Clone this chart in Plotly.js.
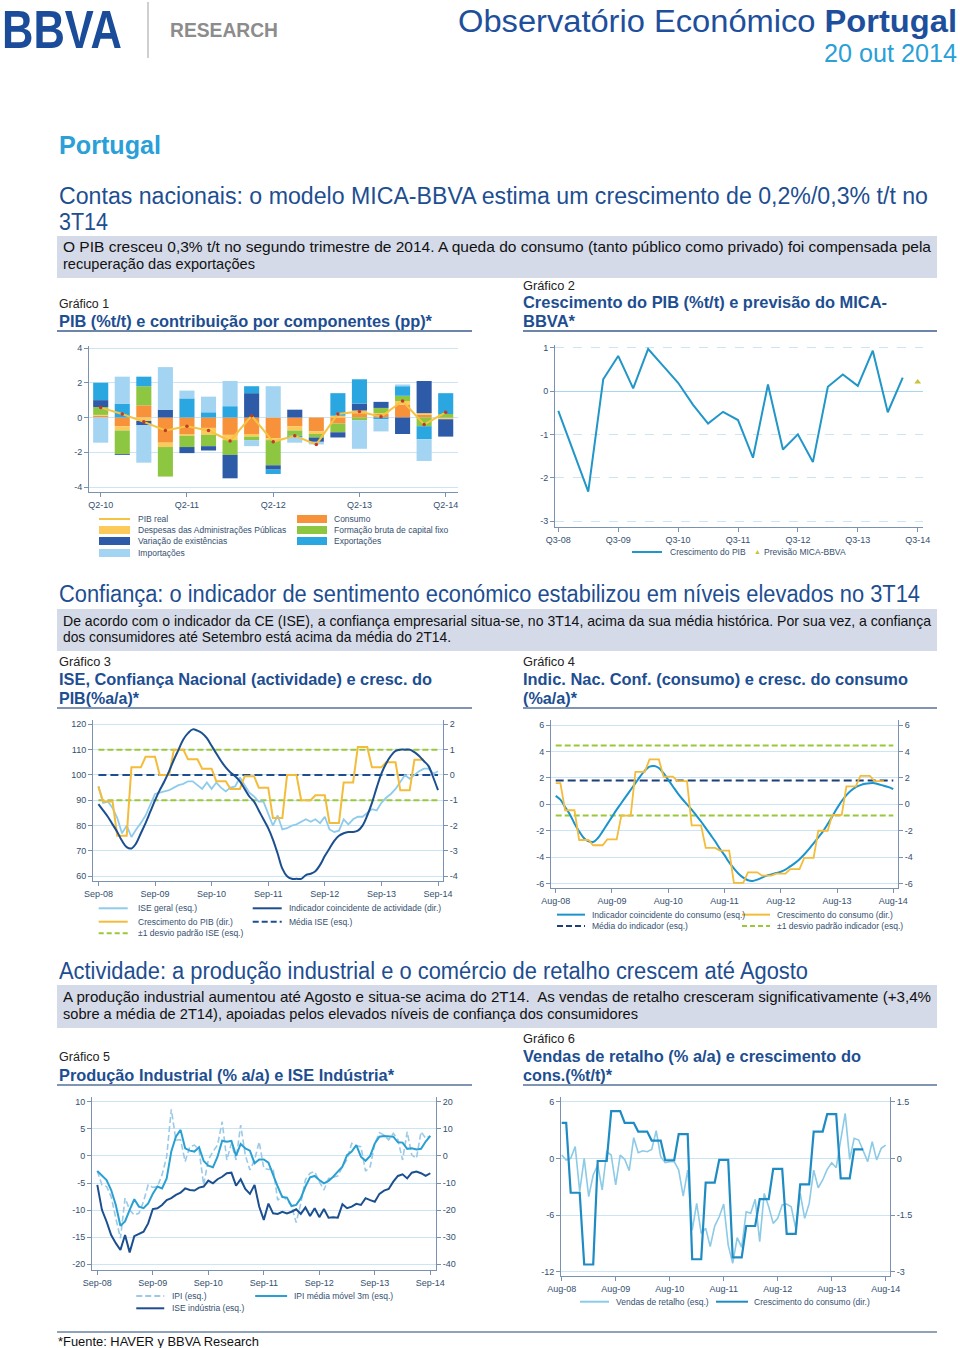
<!DOCTYPE html>
<html><head><meta charset="utf-8">
<script src="https://cdn.plot.ly/plotly-3.0.1.min.js"></script>
<style>
html,body{margin:0;padding:0;background:#fff;}
#page{position:relative;width:960px;height:1348px;overflow:hidden;background:#fff;}
.t{position:absolute;white-space:nowrap;transform-origin:0 50%;}
.r{position:absolute;}
.ch{position:absolute;}
</style></head><body><div id="page"></div>
<script>
// ---------------- DATA ----------------
// Gráfico 1
const c1Cat=['Q2-10','Q3-10','Q4-10','Q1-11','Q2-11','Q3-11','Q4-11','Q1-12','Q2-12','Q3-12','Q4-12','Q1-13','Q2-13','Q3-13','Q4-13','Q1-14','Q2-14'];
const c1Ticks=['Q2-10','Q2-11','Q2-12','Q2-13','Q2-14'];
const c1Consumo=[0.10,-0.50,0.70,-1.45,-0.95,-0.60,-1.00,-0.95,-1.20,-0.50,-0.80,-0.35,0.25,0.20,0.75,0.15,-0.05];
const c1Despesas=[0.05,-0.25,-0.20,-0.25,-0.10,-0.40,-0.30,-0.15,-0.10,-0.25,-0.15,0.10,0.15,0.05,0.20,0.10,-0.05];
const c1FBCF=[0.45,-1.35,1.10,-1.70,-0.65,-0.65,-0.85,-0.20,-1.45,-0.30,-0.20,-0.50,-0.15,0.30,0.30,-0.50,0.20];
const c1Exist=[0.40,-0.05,-0.25,0.45,-0.35,-0.25,-1.35,1.40,-0.25,0.45,-0.25,-0.30,0.40,0.35,-0.95,1.85,-1.00];
const c1Export=[1.00,0.80,0.55,0.00,1.10,0.30,0.65,0.40,-0.25,-0.10,0.00,1.30,1.40,-0.10,0.55,-0.75,1.20];
const c1Import=[-1.45,1.55,-2.15,2.45,0.45,0.90,1.45,-0.35,1.80,-0.30,-0.15,0.00,-1.65,-0.70,0.10,-1.25,0.00];
const c1PIB=[0.57,0.20,-0.25,-0.75,-0.50,-0.75,-1.35,0.10,-1.40,-1.05,-1.55,0.20,0.35,0.05,0.95,-0.40,0.30];
const c1Y=[-4,-2,0,2,4];

// Gráfico 2
const c2Cat=['Q3-08','Q4-08','Q1-09','Q2-09','Q3-09','Q4-09','Q1-10','Q2-10','Q3-10','Q4-10','Q1-11','Q2-11','Q3-11','Q4-11','Q1-12','Q2-12','Q3-12','Q4-12','Q1-13','Q2-13','Q3-13','Q4-13','Q1-14','Q2-14','Q3-14'];
const c2Ticks=['Q3-08','Q3-09','Q3-10','Q3-11','Q3-12','Q3-13','Q3-14'];
const c2PIB=[-0.46,-1.40,-2.32,0.27,0.81,0.06,0.97,0.58,0.19,-0.32,-0.75,-0.48,-0.67,-1.54,0.15,-1.35,-1.00,-1.64,0.10,0.38,0.12,0.93,-0.49,0.31];
const c2PrevCat=['Q3-14'];
const c2Prev=[0.21];
const c2Y=[-3,-2,-1,0,1];

// Gráfico 3 (monthly from Sep-08)
const c3Ticks=['Sep-08','Sep-09','Sep-10','Sep-11','Sep-12','Sep-13','Sep-14'];
const c3ISE=[95.5,89,89.5,87,83,77,80,75.5,78.5,81,84,88,
 92.5,93,93.5,94,95,96,96.5,97.5,97.5,96,94.5,97,
 94.5,97,95,93.5,95,95.5,99,96,93,91.5,89.5,89.5,
 85,80,84,78.5,79,80,80.5,81.5,82.5,81.5,82.5,81,
 83.5,78.5,77.5,78,82.5,80.5,82.5,83.5,83.5,85,86.5,86,
 89,91,92.5,94.5,97.5,100,98.5,100,101.5,102.5,102.5,100.5,
 101.5];
const c3Coinc=[-1.15,-1.4,-1.65,-1.95,-2.25,-2.6,-2.85,-2.9,-2.7,-2.3,-1.9,-1.45,
 -1.0,-0.6,-0.25,0.15,0.6,1.0,1.4,1.65,1.8,1.75,1.65,1.45,
 1.15,0.85,0.55,0.3,0.1,-0.05,-0.25,-0.55,-0.85,-1.05,-1.4,-1.75,
 -2.1,-2.55,-3.1,-3.7,-4.0,-4.1,-4.1,-4.1,-3.95,-3.9,-3.8,-3.55,
 -3.2,-2.9,-2.6,-2.4,-2.3,-2.25,-2.25,-2.2,-2.0,-1.6,-1.1,-0.5,
 0.05,0.45,0.75,0.95,1.0,1.0,1.0,0.9,0.75,0.55,0.35,-0.1,
 -0.6];
const c3PIB=[-0.46,-1.05,-1.05,-1.05,-2.4,-2.4,-2.4,0.3,0.3,0.3,0.72,0.72,
 0.72,0.0,0.0,0.0,1.0,1.0,1.0,0.62,0.62,0.62,0.25,0.25,
 0.25,-0.25,-0.25,-0.25,-0.55,-0.55,-0.55,-0.05,-0.05,-0.05,-0.5,-0.5,
 -0.5,-1.7,-1.7,-1.7,0.0,0.0,0.0,-1.0,-1.0,-1.0,-0.8,-0.8,
 -0.8,-1.9,-1.9,-1.9,-0.3,-0.3,-0.3,1.1,1.1,1.1,0.3,0.3,
 0.3,0.5,0.5,0.5,-0.6,-0.6,-0.6,0.6,0.6,0.6];
const c3Mean=[100];
const c3Band=[90,110];
const c3Y=[60,70,80,90,100,110,120];
const c3Y2=[-4,-3,-2,-1,0,1,2];

// Gráfico 4 (monthly from Aug-08)
const c4Ticks=['Aug-08','Aug-09','Aug-10','Aug-11','Aug-12','Aug-13','Aug-14'];
const c4Ind=[0.64,0.35,-0.2,-0.75,-1.45,-2.05,-2.55,-2.8,-2.85,-2.55,-2.05,-1.5,
 -0.95,-0.4,0.1,0.6,1.1,1.6,2.1,2.55,2.85,2.9,2.75,2.35,
 1.85,1.35,0.85,0.4,0.0,-0.4,-0.85,-1.3,-1.8,-2.3,-2.8,-3.35,
 -3.85,-4.4,-4.85,-5.25,-5.55,-5.75,-5.8,-5.7,-5.55,-5.4,-5.3,-5.2,
 -5.1,-4.95,-4.7,-4.45,-4.15,-3.8,-3.4,-2.95,-2.5,-2.05,-1.5,-0.9,
 -0.3,0.25,0.7,1.05,1.3,1.45,1.55,1.6,1.6,1.5,1.4,1.3,
 1.15];
const c4Cons=[1.6,1.6,-0.45,-0.45,-0.45,-2.7,-2.7,-2.7,-3.1,-3.1,-3.1,-2.65,
 -2.65,-2.65,-0.85,-0.85,-0.85,2.45,2.45,2.45,3.4,3.4,3.4,2.1,
 2.1,2.1,1.75,1.75,1.75,-1.6,-1.6,-1.6,-3.3,-3.3,-3.3,-3.5,
 -3.5,-3.5,-5.95,-5.95,-5.95,-5.15,-5.15,-5.15,-5.4,-5.4,-5.4,-5.25,
 -5.25,-5.25,-4.9,-4.9,-4.9,-4.05,-4.05,-4.05,-2.0,-2.0,-2.0,-0.8,
 -0.8,-0.8,1.35,1.35,1.35,2.15,2.15,2.15,1.75,1.75,1.75];
const c4Mean=[1.8];
const c4Band=[-0.85,4.45];
const c4Y=[-6,-4,-2,0,2,4,6];

// Gráfico 5 (monthly from Sep-08)
const c5Ticks=['Sep-08','Sep-09','Sep-10','Sep-11','Sep-12','Sep-13','Sep-14'];
const c5IPI=[-2.8,-5.35,-5.65,-7.5,-11.5,-15.2,-7.8,-9.95,-10.9,-10.6,-8.4,-5.35,
 -5.8,-5.65,-3.5,-0.15,8.6,2.9,3.0,-1.05,1.7,2.0,1.1,-5.35,
 -0.75,0.8,2.0,6.3,-0.75,2.3,-0.75,5.7,0.15,-2.6,-0.75,2.6,
 -2.3,-2.5,-2.3,-8.15,-7.4,-8.15,-9.25,-12.3,-8.75,-4.35,-3.2,-2.9,
 -4.75,-6.3,-4.15,-3.95,-3.7,-2.0,-0.65,2.3,1.85,1.7,-2.8,-2.0,
 2.3,4.3,3.85,2.95,4.15,2.95,-0.75,4.45,0.15,-0.45,4.45,3.25,
 3.7];
const c5IPIma=[-2.8,-3.7,-4.45,-6.3,-9.05,-12.9,-12.1,-9.95,-8.0,-9.35,-9.65,-8.75,
 -7.0,-5.65,-6.0,-4.15,0.8,3.55,4.8,1.4,0.97,0.8,1.6,-0.95,
 -1.8,-2.1,-0.15,2.8,2.6,2.75,0.0,2.2,1.4,0.97,-1.35,-0.65,
 -0.65,-1.25,-3.5,-5.65,-7.6,-7.7,-9.25,-9.05,-7.8,-5.65,-3.95,-3.7,
 -4.45,-5.05,-4.6,-3.85,-2.9,-2.0,0.15,0.8,2.0,-0.15,-0.9,0.0,
 2.3,3.55,3.65,3.65,3.55,2.5,2.45,1.3,1.4,1.2,1.3,2.65,
 3.7];
const c5ISE=[-5.35,-9.95,-12.1,-14.6,-16.1,-17.35,-14.6,-17.8,-14.8,-14.4,-14.0,-12.45,
 -9.8,-9.65,-9.05,-8.15,-7.8,-7.2,-6.8,-6.0,-6.3,-6.4,-5.85,-5.65,
 -4.55,-5.05,-4.3,-3.85,-3.2,-3.1,-5.5,-4.3,-6.1,-7.0,-5.35,-9.35,
 -11.8,-8.8,-10.6,-10.7,-10.3,-10.6,-10.3,-9.85,-10.7,-9.5,-11.1,-9.65,
 -11.3,-9.8,-11.4,-11.3,-11.4,-8.9,-9.65,-9.35,-8.85,-9.05,-7.8,-8.15,
 -8.45,-7.0,-6.4,-6.1,-4.75,-3.7,-3.4,-4.15,-3.1,-2.9,-3.2,-3.7,
 -3.2];
const c5Y=[-20,-15,-10,-5,0,5,10];
const c5Y2=[-40,-30,-20,-10,0,10,20];

// Gráfico 6 (monthly from Aug-08)
const c6Ticks=['Aug-08','Aug-09','Aug-10','Aug-11','Aug-12','Aug-13','Aug-14'];
const c6Vendas=[0.35,-0.18,0.0,1.24,-3.5,0.0,-4.06,-1.76,-0.7,-3.35,0.7,0.35,
 -2.82,0.35,-0.1,-1.3,2.19,0.6,0.81,0.7,0.95,2.93,0.18,-0.46,
 -0.35,-0.35,-1.24,-3.99,-1.24,-7.59,-4.77,-7.94,-7.41,-9.35,-7.17,-6.18,
 -4.84,-9.18,-11.12,-8.4,-9.42,-5.65,-5.82,-4.34,-8.82,-3.71,-5.12,-6.88,
 -6.35,-4.94,-4.84,-5.12,-7.41,-3.71,-6.35,-4.77,-1.24,-3.11,-2.29,-1.16,
 -0.46,-0.99,1.94,4.77,-0.1,2.12,1.94,0.88,-0.35,1.76,-0.18,1.06,
 1.41];
const c6Cons=[0.94,0.94,-0.91,-0.91,-0.91,-2.81,-2.81,-2.81,-0.07,-0.07,-0.07,1.25,
 1.25,1.25,0.94,0.94,0.94,0.71,0.71,0.71,0.47,0.47,0.47,-0.05,
 -0.05,-0.05,0.64,0.64,0.64,-2.67,-2.67,-2.67,-0.64,-0.64,-0.64,-0.04,
 -0.04,-0.04,-2.62,-2.62,-2.62,-1.79,-1.79,-1.79,-1.08,-1.08,-1.08,-0.28,
 -0.28,-0.28,-2.0,-2.0,-2.0,-0.69,-0.69,-0.69,0.71,0.71,0.71,1.17,
 1.17,1.17,-0.53,-0.53,-0.53,0.24,0.24,0.24];
const c6Y=[-12,-6,0,6];
const c6Y2=[-3,-1.5,0,1.5];

// ---------------- STYLE / HELPERS ----------------
const SANS='"Liberation Sans", Arial, Helvetica, sans-serif';
const NARROW='"Liberation Sans Narrow","Arial Narrow","Liberation Sans",Arial,sans-serif';
const DARKBLUE='#1D4E91', LIGHTBLUE='#2A9FD8';
const AXC='#7A91AF', GRID='#CBE5F4', TICKC='#34506F';
const page=document.getElementById('page');

function txt(html,x,cy,w,size,o){
  o=o||{};
  const s=document.createElement('div'); s.className='t';
  s.innerHTML=html;
  s.style.left=x+'px'; s.style.fontSize=size+'px'; s.style.lineHeight=size+'px';
  s.style.top=(cy-size*0.5)+'px';
  s.style.fontFamily=o.font||NARROW; s.style.color=o.color||'#111';
  s.style.fontWeight=o.bold?'bold':'normal';
  page.appendChild(s);
  const nat=s.getBoundingClientRect().width;
  if(w&&nat>0) s.style.transform='scaleX('+(w/nat)+')';
}
function rect(x,y,w,h,c){
  const d=document.createElement('div'); d.className='r';
  d.style.left=x+'px'; d.style.top=y+'px'; d.style.width=w+'px'; d.style.height=h+'px'; d.style.background=c;
  page.appendChild(d);
}
function lin(a,pa,b,pb,p){return a+(p-pa)*(b-a)/(pb-pa);}
function idx(arr){return arr.map((_,i)=>i);}
function tk(vals){return {tickvals:vals,ticktext:vals.map(v=>String(v))};}
function axis(o){
  return Object.assign({showline:true,linecolor:AXC,linewidth:1,ticks:'outside',ticklen:4,tickcolor:AXC,tickwidth:1,
    tickfont:{family:SANS,size:9,color:TICKC},showgrid:false,zeroline:false,fixedrange:true,tickmode:'array'},o);
}
function legend(P,items){
  const px=x=>(x-P.x0)/(P.x1-P.x0), py=y=>(P.y1-y)/(P.y1-P.y0);
  const shapes=[],ann=[];
  items.forEach(it=>{
    if(it.kind==='rect'){
      shapes.push({type:'rect',xref:'paper',yref:'paper',x0:px(it.x0),x1:px(it.x1),y0:py(it.y+4),y1:py(it.y-4),fillcolor:it.color,line:{width:0}});
    } else if(it.kind==='tri'){
      ann.push({xref:'paper',yref:'paper',x:px(it.x0),y:py(it.y-1),text:'▲',showarrow:false,xanchor:'center',yanchor:'middle',font:{size:7,color:it.color,family:SANS}});
    } else {
      shapes.push({type:'line',xref:'paper',yref:'paper',x0:px(it.x0),x1:px(it.x1),y0:py(it.y),y1:py(it.y),line:{color:it.color,width:it.w||2,dash:it.dash||'solid'}});
    }
    ann.push({xref:'paper',yref:'paper',x:px(it.tx),y:py(it.y),text:it.text,showarrow:false,xanchor:'left',yanchor:'middle',font:{family:SANS,size:8.5,color:TICKC}});
  });
  return {shapes,ann};
}
function makeChart(P,traces,layout,leg){
  const div=document.createElement('div'); div.className='ch';
  div.style.left=P.L+'px'; div.style.top=P.T+'px'; div.style.width=P.W+'px'; div.style.height=P.H+'px';
  page.appendChild(div);
  const base={width:P.W,height:P.H,
    margin:{l:P.x0-P.L,r:P.L+P.W-P.x1,t:P.y0-P.T,b:P.T+P.H-P.y1,pad:0,autoexpand:false},
    showlegend:false,paper_bgcolor:'rgba(0,0,0,0)',plot_bgcolor:'rgba(0,0,0,0)',
    font:{family:SANS,size:9,color:TICKC},shapes:(layout.shapes||[]).concat(leg.shapes),annotations:leg.ann};
  Plotly.newPlot(div,traces,Object.assign({},layout,base),{staticPlot:true,displayModeBar:false});
}

// ---------------- PAGE TEXT ----------------
txt('BBVA',2,29,120,53,{font:SANS,bold:true,color:'#1A4C9A'});
rect(147,2,2,56,'#CFCFCF');
txt('RESEARCH',170,30,108,20,{font:SANS,bold:true,color:'#8C8C8C'});
txt('Observatório Económico <b>Portugal</b>',458,21,499,31,{font:SANS,color:'#1E4F9C'});
txt('20 out 2014',824,53,133,25,{font:SANS,color:LIGHTBLUE});
txt('Portugal',59,145,102,26,{font:SANS,bold:true,color:LIGHTBLUE});

txt('Contas nacionais: o modelo MICA-BBVA estima um crescimento de 0,2%/0,3% t/t no',59,196,869,23,{color:DARKBLUE});
txt('3T14',59,222,49,23,{color:DARKBLUE});
rect(57,236,880,42,'#D5DAE8');
txt('O PIB cresceu 0,3% t/t no segundo trimestre de 2014. A queda do consumo (tanto público como privado) foi compensada pela',63,247,868,14.5);
txt('recuperação das exportações',63,264,192,14.5);
txt('Gráfico 1',59,304,50,12.5,{color:'#222'});
txt('PIB (%t/t) e contribuição por componentes (pp)*',59,321,373,17,{bold:true,color:DARKBLUE});
txt('Gráfico 2',523,286,52,12.5,{color:'#222'});
txt('Crescimento do PIB (%t/t) e previsão do MICA-',523,302,364,17,{bold:true,color:DARKBLUE});
txt('BBVA*',523,321,52,17,{bold:true,color:DARKBLUE});
rect(57,330,415,2,'#6D86A8'); rect(523,330,414,2,'#6D86A8');

txt('Confiança: o indicador de sentimento económico estabilizou em níveis elevados no 3T14',59,594,861,23,{color:DARKBLUE});
rect(57,609,880,42,'#D5DAE8');
txt('De acordo com o indicador da CE (ISE), a confiança empresarial situa-se, no 3T14, acima da sua média histórica. Por sua vez, a confiança',63,621,868,14.5);
txt('dos consumidores até Setembro está acima da média do 2T14.',63,637,388,14.5);
txt('Gráfico 3',59,662,52,12.5,{color:'#222'});
txt('ISE, Confiança Nacional (actividade) e cresc. do',59,679,373,17,{bold:true,color:DARKBLUE});
txt('PIB(%a/a)*',59,698,80,17,{bold:true,color:DARKBLUE});
txt('Gráfico 4',523,662,52,12.5,{color:'#222'});
txt('Indic. Nac. Conf. (consumo) e cresc. do consumo',523,679,385,17,{bold:true,color:DARKBLUE});
txt('(%a/a)*',523,698,54,17,{bold:true,color:DARKBLUE});
rect(57,707,415,2,'#7F95B2'); rect(523,707,414,2,'#7F95B2');

txt('Actividade: a produção industrial e o comércio de retalho crescem até Agosto',59,971,749,23,{color:DARKBLUE});
rect(57,985,880,43,'#D5DAE8');
txt('A produção industrial aumentou até Agosto e situa-se acima do 2T14.&nbsp; As vendas de retalho cresceram significativamente (+3,4%',63,997,868,14.5);
txt('sobre a média de 2T14), apoiadas pelos elevados níveis de confiança dos consumidores',63,1014,575,14.5);
txt('Gráfico 5',59,1057,51,12.5,{color:'#222'});
txt('Produção Industrial (% a/a) e ISE Indústria*',59,1075,335,17,{bold:true,color:DARKBLUE});
txt('Gráfico 6',523,1039,52,12.5,{color:'#222'});
txt('Vendas de retalho (% a/a) e crescimento do',523,1056,338,17,{bold:true,color:DARKBLUE});
txt('cons.(%t/t)*',523,1075,89,17,{bold:true,color:DARKBLUE});
rect(57,1084,415,2,'#7F95B2'); rect(523,1084,414,2,'#7F95B2');

rect(57,1331,880,2,'#8FA2BA');
txt('*Fuente: HAVER y BBVA Research',58,1341,201,13,{color:'#111'});

// ---------------- CHART 1 ----------------
(function(){
  const P={L:60,T:340,W:410,H:220,x0:89,x1:458,y0:346,y1:492};
  const bar=(name,y,c)=>({type:'bar',x:c1Cat,y:y,name:name,marker:{color:c,line:{width:0}},width:0.7});
  const traces=[
    bar('Consumo',c1Consumo,'#F7923A'),
    bar('Despesas das Administrações Públicas',c1Despesas,'#FCC95B'),
    bar('Formação bruta de capital fixo',c1FBCF,'#8DC641'),
    bar('Variação de existências',c1Exist,'#2E5BA8'),
    bar('Exportações',c1Export,'#2AA7E1'),
    bar('Importações',c1Import,'#A3D4F2'),
    {type:'scatter',mode:'lines+markers',x:c1Cat,y:c1PIB,name:'PIB real',line:{color:'#F5C342',width:2},marker:{color:'#C0392B',size:3.5}}
  ];
  const layout={barmode:'relative',
    xaxis:axis({type:'category',categoryarray:c1Cat,range:[lin(0,100.7,16,445.7,P.x0),lin(0,100.7,16,445.7,P.x1)],tickvals:c1Ticks,ticktext:c1Ticks}),
    yaxis:axis(Object.assign({range:[lin(4,348,-4,487,P.y1),lin(4,348,-4,487,P.y0)],showgrid:true,gridcolor:GRID},tk(c1Y)))};
  const L=legend(P,[
    {kind:'line',color:'#F5C342',x0:99,x1:130,tx:136,y:519,text:'PIB real'},
    {kind:'rect',color:'#F7923A',x0:297,x1:327,tx:332,y:519,text:'Consumo'},
    {kind:'rect',color:'#FCC95B',x0:99,x1:130,tx:136,y:530,text:'Despesas das Administrações Públicas'},
    {kind:'rect',color:'#8DC641',x0:297,x1:327,tx:332,y:530,text:'Formação bruta de capital fixo'},
    {kind:'rect',color:'#2E5BA8',x0:99,x1:130,tx:136,y:541,text:'Variação de existências'},
    {kind:'rect',color:'#2AA7E1',x0:297,x1:327,tx:332,y:541,text:'Exportações'},
    {kind:'rect',color:'#A3D4F2',x0:99,x1:130,tx:136,y:553,text:'Importações'}
  ]);
  makeChart(P,traces,layout,L);
})();

// ---------------- CHART 2 ----------------
(function(){
  const P={L:520,T:340,W:420,H:220,x0:555,x1:923,y0:345,y1:527};
  const traces=[
    {type:'scatter',mode:'lines',x:c2Cat.slice(0,c2PIB.length),y:c2PIB,line:{color:'#2196C8',width:2}},
    {type:'scatter',mode:'markers',x:c2PrevCat,y:c2Prev,marker:{symbol:'triangle-up',size:6,color:'#C9C23A'}}
  ];
  const layout={
    xaxis:axis({type:'category',categoryarray:c2Cat,range:[lin(0,558.3,24,917.7,P.x0),lin(0,558.3,24,917.7,P.x1)],tickvals:c2Ticks,ticktext:c2Ticks}),
    yaxis:axis(Object.assign({range:[lin(1,347.7,-3,521,P.y1),lin(1,347.7,-3,521,P.y0)],showgrid:true,gridcolor:GRID,griddash:'dash',zeroline:true,zerolinecolor:'#A9D5EE',zerolinewidth:1},tk(c2Y)))};
  const L=legend(P,[
    {kind:'line',color:'#2196C8',x0:632,x1:662,tx:668,y:552,text:'Crescimento do PIB'},
    {kind:'tri',color:'#C9C23A',x0:757,tx:762,y:552,text:'Previsão MICA-BBVA'}
  ]);
  makeChart(P,traces,layout,L);
})();

// ---------------- CHART 3 ----------------
(function(){
  const P={L:60,T:715,W:410,H:230,x0:93.3,x1:443.3,y0:720,y1:881};
  const last=c3ISE.length-1;
  const ends=[0,last];
  const traces=[
    {type:'scatter',mode:'lines',x:ends,y:[c3Band[0],c3Band[0]],line:{color:'#9AC83A',width:2,dash:'6px,3px'}},
    {type:'scatter',mode:'lines',x:ends,y:[c3Band[1],c3Band[1]],line:{color:'#9AC83A',width:2,dash:'6px,3px'}},
    {type:'scatter',mode:'lines',x:ends,y:[c3Mean[0],c3Mean[0]],line:{color:'#1C4F8F',width:2,dash:'8px,4px'}},
    {type:'scatter',mode:'lines',x:idx(c3ISE),y:c3ISE,line:{color:'#8FCBEA',width:1.8}},
    {type:'scatter',mode:'lines',x:idx(c3PIB),y:c3PIB,yaxis:'y2',line:{color:'#F3BC3A',width:2}},
    {type:'scatter',mode:'lines',x:idx(c3Coinc),y:c3Coinc,yaxis:'y2',line:{color:'#1C4F8F',width:2,shape:'spline'}}
  ];
  const tv=c3Ticks.map((_,i)=>i*12);
  const layout={
    xaxis:axis({range:[lin(0,98.7,72,438.3,P.x0),lin(0,98.7,72,438.3,P.x1)],tickvals:tv,ticktext:c3Ticks}),
    yaxis:axis(Object.assign({range:[lin(120,724.3,60,876.3,P.y1),lin(120,724.3,60,876.3,P.y0)],showgrid:true,gridcolor:GRID},tk(c3Y))),
    yaxis2:axis(Object.assign({overlaying:'y',side:'right',range:[lin(2,724.3,-4,876.3,P.y1),lin(2,724.3,-4,876.3,P.y0)]},tk(c3Y2)))};
  const L=legend(P,[
    {kind:'line',color:'#8FCBEA',x0:99,x1:128,tx:136,y:908.3,text:'ISE geral (esq.)'},
    {kind:'line',color:'#1C4F8F',x0:253,x1:282,tx:287,y:908.3,text:'Indicador coincidente de actividade (dir.)'},
    {kind:'line',color:'#F3BC3A',x0:99,x1:128,tx:136,y:921.7,text:'Crescimento do PIB (dir.)'},
    {kind:'line',color:'#1C4F8F',dash:'6px,3px',x0:253,x1:282,tx:287,y:921.7,text:'Média ISE (esq.)'},
    {kind:'line',color:'#9AC83A',dash:'5px,3px',x0:99,x1:128,tx:136,y:933.3,text:'±1 desvio padrão ISE (esq.)'}
  ]);
  makeChart(P,traces,layout,L);
})();

// ---------------- CHART 4 ----------------
(function(){
  const P={L:520,T:715,W:420,H:220,x0:551,x1:898,y0:720,y1:887.7};
  const last=c4Ind.length-1;
  const ends=[0,last];
  const traces=[
    {type:'scatter',mode:'lines',x:ends,y:[c4Band[0],c4Band[0]],line:{color:'#9AC83A',width:2,dash:'6px,3px'}},
    {type:'scatter',mode:'lines',x:ends,y:[c4Band[1],c4Band[1]],line:{color:'#9AC83A',width:2,dash:'6px,3px'}},
    {type:'scatter',mode:'lines',x:ends,y:[c4Mean[0],c4Mean[0]],line:{color:'#1C3F7A',width:2,dash:'8px,4px'}},
    {type:'scatter',mode:'lines',x:idx(c4Cons),y:c4Cons,yaxis:'y2',line:{color:'#F3BC3A',width:1.8}},
    {type:'scatter',mode:'lines',x:idx(c4Ind),y:c4Ind,line:{color:'#1B93CC',width:2,shape:'spline'}}
  ];
  const tv=c4Ticks.map((_,i)=>i*12);
  const yr=[lin(6,725,-6,883.3,P.y1),lin(6,725,-6,883.3,P.y0)];
  const layout={
    xaxis:axis({range:[lin(0,555.7,72,893.3,P.x0),lin(0,555.7,72,893.3,P.x1)],tickvals:tv,ticktext:c4Ticks}),
    yaxis:axis(Object.assign({range:yr,showgrid:true,gridcolor:GRID},tk(c4Y))),
    yaxis2:axis(Object.assign({overlaying:'y',side:'right',range:yr},tk(c4Y)))};
  const L=legend(P,[
    {kind:'line',color:'#1B93CC',x0:557,x1:585,tx:590,y:914.3,text:'Indicador coincidente do consumo (esq.)'},
    {kind:'line',color:'#F3BC3A',x0:742,x1:770,tx:775,y:914.3,text:'Crescimento do consumo (dir.)'},
    {kind:'line',color:'#1C3F7A',dash:'6px,3px',x0:557,x1:585,tx:590,y:925.7,text:'Média do indicador (esq.)'},
    {kind:'line',color:'#9AC83A',dash:'5px,3px',x0:742,x1:770,tx:775,y:925.7,text:'±1 desvio padrão indicador (esq.)'}
  ]);
  makeChart(P,traces,layout,L);
})();

// ---------------- CHART 5 ----------------
(function(){
  const P={L:60,T:1090,W:410,H:225,x0:91.7,x1:436,y0:1097,y1:1270};
  const traces=[
    {type:'scatter',mode:'lines',x:idx(c5IPI),y:c5IPI,line:{color:'#9CC9E6',width:1.6,dash:'6px,3px'}},
    {type:'scatter',mode:'lines',x:idx(c5IPIma),y:c5IPIma,line:{color:'#2AA0D2',width:2}},
    {type:'scatter',mode:'lines',x:idx(c5ISE),y:c5ISE,line:{color:'#1C4F8F',width:2}},
    {type:'scatter',mode:'lines',x:[],y:[],yaxis:'y2'}
  ];
  const tv=c5Ticks.map((_,i)=>i*12);
  const layout={
    xaxis:axis({range:[lin(0,97,72,430.3,P.x0),lin(0,97,72,430.3,P.x1)],tickvals:tv,ticktext:c5Ticks}),
    yaxis:axis(Object.assign({range:[lin(10,1101.7,-20,1264.3,P.y1),lin(10,1101.7,-20,1264.3,P.y0)],showgrid:true,gridcolor:GRID},tk(c5Y))),
    yaxis2:axis(Object.assign({overlaying:'y',side:'right',range:[lin(20,1101.7,-40,1264.3,P.y1),lin(20,1101.7,-40,1264.3,P.y0)]},tk(c5Y2)))};
  const L=legend(P,[
    {kind:'line',color:'#9CC9E6',dash:'6px,3px',x0:136,x1:164,tx:170,y:1296,text:'IPI (esq.)'},
    {kind:'line',color:'#2AA0D2',x0:255,x1:287,tx:292,y:1296,text:'IPI média móvel 3m (esq.)'},
    {kind:'line',color:'#1C4F8F',x0:136,x1:164,tx:170,y:1308.3,text:'ISE indústria (esq.)'}
  ]);
  makeChart(P,traces,layout,L);
})();

// ---------------- CHART 6 ----------------
(function(){
  const P={L:520,T:1090,W:420,H:220,x0:561,x1:890,y0:1097,y1:1276};
  const traces=[
    {type:'scatter',mode:'lines',x:idx(c6Vendas),y:c6Vendas,line:{color:'#8CCAE6',width:1.6}},
    {type:'scatter',mode:'lines',x:idx(c6Cons),y:c6Cons,yaxis:'y2',line:{color:'#1E8BC3',width:2.2}}
  ];
  const tv=c6Ticks.map((_,i)=>i*12);
  const layout={
    xaxis:axis({range:[lin(0,561.7,72,885.7,P.x0),lin(0,561.7,72,885.7,P.x1)],tickvals:tv,ticktext:c6Ticks}),
    yaxis:axis(Object.assign({range:[lin(6,1101.7,-12,1271.7,P.y1),lin(6,1101.7,-12,1271.7,P.y0)],showgrid:true,gridcolor:GRID},tk(c6Y))),
    yaxis2:axis(Object.assign({overlaying:'y',side:'right',range:[lin(1.5,1101.7,-3,1271.7,P.y1),lin(1.5,1101.7,-3,1271.7,P.y0)]},tk(c6Y2)))};
  const L=legend(P,[
    {kind:'line',color:'#8CCAE6',x0:580,x1:609,tx:614,y:1301.7,text:'Vendas de retalho (esq.)'},
    {kind:'line',color:'#1E8BC3',x0:716,x1:748,tx:752,y:1301.7,text:'Crescimento do consumo (dir.)'}
  ]);
  makeChart(P,traces,layout,L);
})();
</script></body></html>
